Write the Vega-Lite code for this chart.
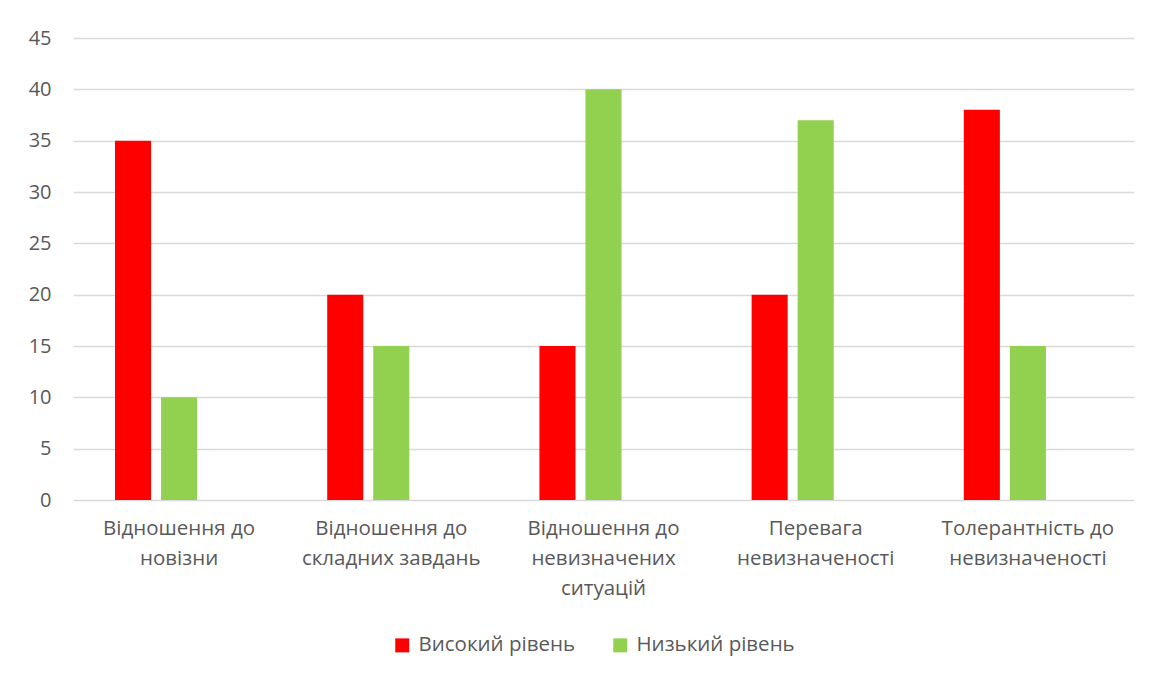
{
  "$schema": "https://vega.github.io/schema/vega-lite/v6.json",
  "width": 1061,
  "height": 462,
  "autosize": "none",
  "padding": {"left": 73, "top": 38, "right": 35, "bottom": 174},
  "background": "white",
  "config": {
    "view": {"stroke": null},
    "font": "Open Sans",
    "axis": {"labelColor": "#595959", "labelFont": "Open Sans"},
    "legend": {"labelColor": "#595959", "labelFont": "Open Sans"}
  },
  "data": {
    "values": [
      {"category": "Відношення до новізни", "level": "Високий рівень", "value": 35},
      {"category": "Відношення до новізни", "level": "Низький рівень", "value": 10},
      {"category": "Відношення до складних завдань", "level": "Високий рівень", "value": 20},
      {"category": "Відношення до складних завдань", "level": "Низький рівень", "value": 15},
      {"category": "Відношення до невизначених ситуацій", "level": "Високий рівень", "value": 15},
      {"category": "Відношення до невизначених ситуацій", "level": "Низький рівень", "value": 40},
      {"category": "Перевага невизначеності", "level": "Високий рівень", "value": 20},
      {"category": "Перевага невизначеності", "level": "Низький рівень", "value": 37},
      {"category": "Толерантність до невизначеності", "level": "Високий рівень", "value": 38},
      {"category": "Толерантність до невизначеності", "level": "Низький рівень", "value": 15}
    ]
  },
  "mark": {"type": "bar"},
  "encoding": {
    "x": {
      "field": "category",
      "type": "nominal",
      "sort": null,
      "scale": {"paddingInner": 0.396, "paddingOuter": 0.198},
      "axis": {
        "title": null,
        "labelAngle": 0,
        "domain": false,
        "ticks": false,
        "labelFontSize": 20.5,
        "labelPadding": 18,
        "labelLineHeight": 30,
        "labelBaseline": "top",
        "labelExpr": "({'Відношення до новізни': ['Відношення до', 'новізни'], 'Відношення до складних завдань': ['Відношення до', 'складних завдань'], 'Відношення до невизначених ситуацій': ['Відношення до', 'невизначених', 'ситуацій'], 'Перевага невизначеності': ['Перевага', 'невизначеності'], 'Толерантність до невизначеності': ['Толерантність до', 'невизначеності']})[datum.label]"
      }
    },
    "xOffset": {
      "field": "level",
      "type": "nominal",
      "scale": {"domain": ["Високий рівень", "Низький рівень", "Ряд 3"], "paddingInner": 0.217, "paddingOuter": 0}
    },
    "y": {
      "field": "value",
      "type": "quantitative",
      "scale": {"domain": [0, 45], "nice": false},
      "axis": {
        "title": null,
        "values": [0, 5, 10, 15, 20, 25, 30, 35, 40, 45],
        "domain": false,
        "ticks": false,
        "labelFontSize": 20,
        "labelPadding": 22,
        "gridColor": "#d9d9d9",
        "gridWidth": 1.3
      }
    },
    "color": {
      "field": "level",
      "type": "nominal",
      "scale": {"domain": ["Високий рівень", "Низький рівень"], "range": ["#ff0000", "#92d050"]},
      "legend": {
        "title": null,
        "orient": "none",
        "direction": "horizontal",
        "legendX": 319,
        "legendY": 597,
        "symbolType": "square",
        "symbolSize": 196,
        "symbolStrokeWidth": 0,
        "labelFontSize": 20.5,
        "labelOffset": 6,
        "columnPadding": 35
      }
    }
  }
}
